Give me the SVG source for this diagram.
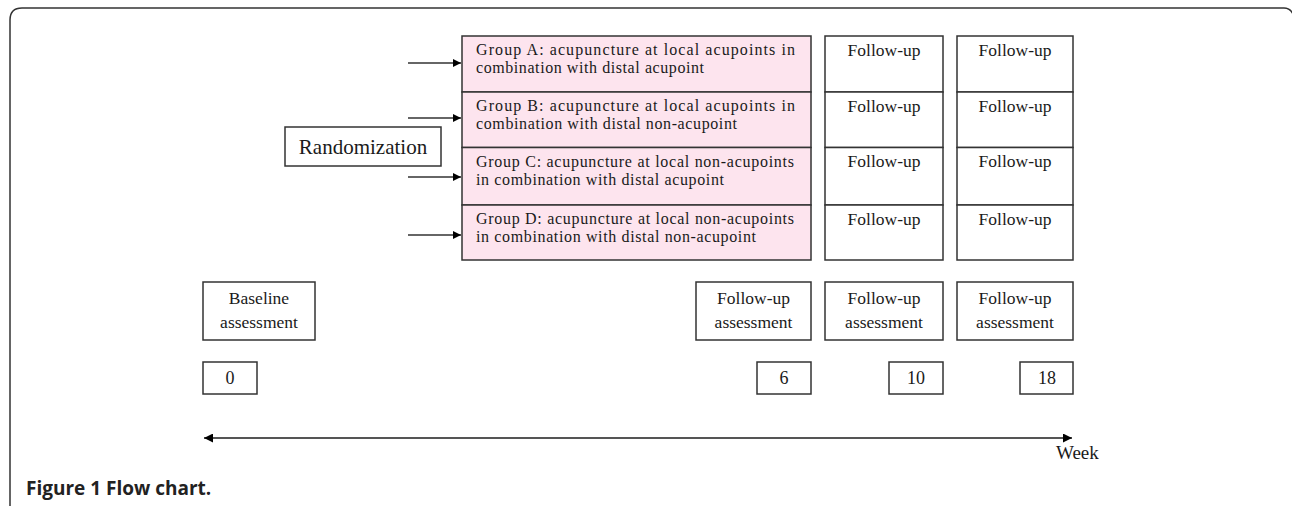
<svg xmlns="http://www.w3.org/2000/svg" width="1292" height="506" viewBox="0 0 1292 506">
<style>
.box{fill:#fff;stroke:#333;stroke-width:1.5}
.grp{fill:#fde4ee;stroke:#333;stroke-width:1.5}
.t{font-family:"Liberation Serif","Times New Roman",serif;fill:#1a1a1a}
.gt{font-size:17.5px}
.gl{font-size:16px}
.c{text-anchor:middle}
.conn{stroke:#333;stroke-width:1.4;fill:none}
</style>
<defs>
<marker id="ah" viewBox="0 0 10 10" refX="10" refY="5" markerWidth="8" markerHeight="8" markerUnits="userSpaceOnUse" orient="auto">
<path d="M0,0 L10,5 L0,10 z" fill="#000"/>
</marker>
<marker id="ahs" viewBox="0 0 10 10" refX="10" refY="5" markerWidth="9" markerHeight="9" markerUnits="userSpaceOnUse" orient="auto-start-reverse">
<path d="M0,0 L10,5 L0,10 z" fill="#000"/>
</marker>
</defs>
<rect width="1292" height="506" fill="#fff"/>
<path d="M10,506 L10,20 Q10,8 22,8 L1284,8 Q1290,8 1293,14" fill="none" stroke="#333" stroke-width="1.5"/>

<g id="randomization">
<rect class="box" x="285" y="127" width="156" height="39"/>
<text class="t c" x="363" y="154" font-size="21">Randomization</text>
</g>

<g id="groupA">
<rect class="grp" x="462" y="36" width="349" height="56"/>
<text class="t gl" x="476" y="54.5" textLength="319" lengthAdjust="spacing">Group A: acupuncture at local acupoints in</text>
<text class="t gl" x="476" y="72.5" textLength="228" lengthAdjust="spacing">combination with distal acupoint</text>
</g>
<g id="groupB">
<rect class="grp" x="462" y="92" width="349" height="55.5"/>
<text class="t gl" x="476" y="110.5" textLength="319" lengthAdjust="spacing">Group B: acupuncture at local acupoints in</text>
<text class="t gl" x="476" y="128.5" textLength="261" lengthAdjust="spacing">combination with distal non-acupoint</text>
</g>
<g id="groupC">
<rect class="grp" x="462" y="147.5" width="349" height="57.5"/>
<text class="t gl" x="476" y="166.5" textLength="318" lengthAdjust="spacing">Group C: acupuncture at local non-acupoints</text>
<text class="t gl" x="476" y="184.5" textLength="248" lengthAdjust="spacing">in combination with distal acupoint</text>
</g>
<g id="groupD">
<rect class="grp" x="462" y="205" width="349" height="55"/>
<text class="t gl" x="476" y="223.5" textLength="318" lengthAdjust="spacing">Group D: acupuncture at local non-acupoints</text>
<text class="t gl" x="476" y="241.5" textLength="280" lengthAdjust="spacing">in combination with distal non-acupoint</text>
</g>

<g id="followup-col1">
<rect class="box" x="825" y="36" width="118" height="56"/>
<rect class="box" x="825" y="92" width="118" height="55.5"/>
<rect class="box" x="825" y="147.5" width="118" height="57.5"/>
<rect class="box" x="825" y="205" width="118" height="55"/>
<text class="t gt c" x="884" y="55.5">Follow-up</text>
<text class="t gt c" x="884" y="111.5">Follow-up</text>
<text class="t gt c" x="884" y="167">Follow-up</text>
<text class="t gt c" x="884" y="224.5">Follow-up</text>
</g>
<g id="followup-col2">
<rect class="box" x="957" y="36" width="116" height="56"/>
<rect class="box" x="957" y="92" width="116" height="55.5"/>
<rect class="box" x="957" y="147.5" width="116" height="57.5"/>
<rect class="box" x="957" y="205" width="116" height="55"/>
<text class="t gt c" x="1015" y="55.5">Follow-up</text>
<text class="t gt c" x="1015" y="111.5">Follow-up</text>
<text class="t gt c" x="1015" y="167">Follow-up</text>
<text class="t gt c" x="1015" y="224.5">Follow-up</text>
</g>

<g id="baseline">
<rect class="box" x="203" y="282" width="112" height="58"/>
<text class="t gt c" x="259" y="304">Baseline</text>
<text class="t gt c" x="259" y="328">assessment</text>
</g>
<g id="fu-assess-6">
<rect class="box" x="696" y="282" width="115" height="58"/>
<text class="t gt c" x="753.5" y="304">Follow-up</text>
<text class="t gt c" x="753.5" y="328">assessment</text>
</g>
<g id="fu-assess-10">
<rect class="box" x="825" y="282" width="118" height="58"/>
<text class="t gt c" x="884" y="304">Follow-up</text>
<text class="t gt c" x="884" y="328">assessment</text>
</g>
<g id="fu-assess-18">
<rect class="box" x="957" y="282" width="116" height="58"/>
<text class="t gt c" x="1015" y="304">Follow-up</text>
<text class="t gt c" x="1015" y="328">assessment</text>
</g>

<g id="week0">
<rect class="box" x="203" y="362" width="54" height="32"/>
<text class="t c" x="230" y="384" font-size="18">0</text>
</g>
<g id="week6">
<rect class="box" x="757" y="362" width="54" height="32"/>
<text class="t c" x="784" y="384" font-size="18">6</text>
</g>
<g id="week10">
<rect class="box" x="889" y="362" width="54" height="32"/>
<text class="t c" x="916" y="384" font-size="18">10</text>
</g>
<g id="week18">
<rect class="box" x="1020" y="362" width="53" height="32"/>
<text class="t c" x="1047" y="384" font-size="18">18</text>
</g>

<g id="connectors">
<line class="conn" x1="408" y1="63" x2="461" y2="63" marker-end="url(#ah)"/>
<line class="conn" x1="408" y1="118" x2="461" y2="118" marker-end="url(#ah)"/>
<line class="conn" x1="408" y1="177" x2="461" y2="177" marker-end="url(#ah)"/>
<line class="conn" x1="408" y1="235" x2="461" y2="235" marker-end="url(#ah)"/>
<line x1="204" y1="438" x2="1072" y2="438" stroke="#555" stroke-width="1.8" marker-start="url(#ahs)" marker-end="url(#ahs)"/>
</g>

<text class="t" x="1056" y="459" font-size="19">Week</text>

<text x="26" y="495" font-family="'Open Sans','Noto Sans',sans-serif" font-weight="bold" font-size="19" fill="#222">Figure 1 Flow chart.</text>
</svg>
